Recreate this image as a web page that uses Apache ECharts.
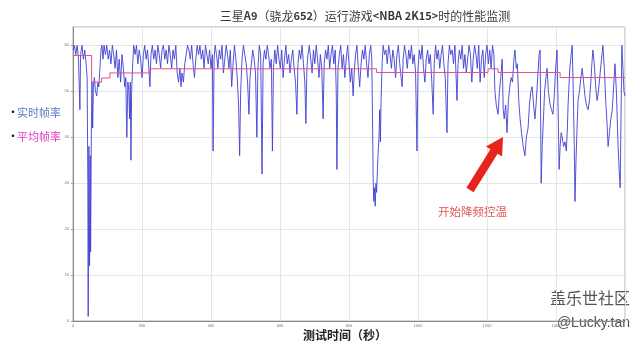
<!DOCTYPE html>
<html><head><meta charset="utf-8">
<script src="https://cdn.jsdelivr.net/npm/echarts@6/dist/echarts.min.js"></script>
<style>html,body{margin:0;padding:0;background:#fff}#c{width:640px;height:347px}</style>
</head><body><div id="c"></div>
<script>
const titleText = '三星A9（骁龙652）运行游戏<NBA 2K15>时的性能监测';
const xName = '测试时间（秒）';
const legendNames = ['实时帧率', '平均帧率'];
const xTicks = [0, 200, 400, 600, 800, 1000, 1200, 1400, 1600];
const yTicks = [0, 10, 20, 30, 40, 50, 60];

const rtTimes = [0,4,8,12,16,20,22,26,30,34,38,41,43,44,46,48,50,51,53,55,57,59,62,65,69,72,75,78,81,84,87,90,94,98,102,106,110,114,118,122,126,130,134,138,142,146,150,153,156,159,162,164,166,168,170,173,176,180,184,188,192,196,200,204,208,212,216,220,223,226,230,234,238,242,246,250,254,258,262,266,270,274,278,282,286,290,294,298,302,306,310,313,316,320,324,328,332,336,340,344,348,352,356,360,364,368,372,376,380,384,388,392,396,400,404,406,409,412,416,420,424,428,432,436,440,444,448,452,456,460,464,468,472,476,480,483,486,490,494,498,502,506,510,513,517,521,525,529,533,536,540,544,548,551,555,559,563,567,571,575,578,581,585,589,593,597,601,605,609,613,617,621,625,629,633,637,641,645,649,652,656,660,664,668,672,675,678,681,685,689,693,697,701,705,709,713,717,721,725,728,732,736,740,744,748,752,756,760,763,765,768,772,776,780,784,788,792,796,800,804,808,812,815,819,823,827,831,835,839,843,847,851,855,859,863,866,868,870,872,874,876,878,880,882,884,887,889,891,893,896,899,903,907,911,915,919,923,927,931,935,939,943,947,951,954,957,961,965,969,973,977,981,985,989,993,997,1000,1004,1008,1012,1016,1020,1024,1028,1032,1036,1040,1044,1047,1051,1055,1059,1063,1067,1071,1075,1079,1084,1087,1091,1095,1099,1103,1107,1110,1113,1116,1120,1124,1128,1132,1136,1140,1144,1148,1152,1156,1160,1164,1168,1172,1176,1180,1184,1188,1192,1196,1200,1204,1208,1212,1216,1220,1223,1227,1232,1236,1240,1244,1247,1250,1254,1258,1262,1266,1270,1274,1278,1281,1285,1288,1292,1296,1300,1305,1310,1314,1319,1323,1327,1331,1335,1339,1343,1347,1351,1354,1357,1360,1363,1367,1371,1374,1378,1383,1387,1391,1395,1399,1403,1406,1409,1412,1415,1418,1422,1426,1430,1433,1435,1440,1444,1447,1450,1453,1455,1458,1461,1464,1468,1472,1476,1480,1484,1488,1493,1497,1501,1504,1507,1511,1515,1519,1523,1528,1532,1536,1540,1544,1548,1551,1555,1559,1563,1567,1571,1575,1580,1583,1586,1588,1591,1594,1597,1600];
const rtFps = [59,60,58,60,57,46,58,60,57,59,56,53,30,1,38,12,36,15,40,52,42,51,53,50,49,52,51,55,59,60,57,60,58,60,57,59,56,60,58,55,59,53,57,52,58,55,51,53,40,52,50,44,52,35,50,56,60,58,60,56,59,57,53,58,60,57,59,55,51,58,60,57,59,56,60,58,55,59,60,57,59,56,60,58,55,59,57,60,54,52,55,51,54,52,56,58,60,59,57,60,56,53,57,60,58,60,57,59,55,60,58,56,59,55,58,37,57,60,58,55,59,57,60,54,57,60,58,55,59,51,56,60,57,53,47,36,50,57,60,58,56,52,45,53,56,59,57,54,40,55,60,58,32,56,59,57,60,58,55,57,37,55,59,56,60,57,55,59,53,57,60,56,58,54,57,59,55,52,45,56,59,57,60,56,52,43,55,58,60,57,54,59,56,60,57,53,58,55,44,56,59,57,60,55,58,60,56,59,50,33,55,58,60,55,58,53,57,60,56,52,55,49,54,58,60,55,51,56,59,57,60,56,53,58,60,57,45,31,26,29,25,30,28,32,36,40,46,39,48,56,60,58,59,56,60,58,55,59,57,53,58,60,56,53,51,57,60,58,55,59,57,60,56,58,54,37,55,59,57,60,55,52,57,59,56,58,52,45,56,60,57,59,55,58,60,56,53,41,56,60,58,59,56,60,54,48,56,59,57,60,55,58,54,57,60,58,52,57,60,58,55,60,52,57,59,53,58,60,56,59,55,60,58,50,47,45,50,53,57,46,44,47,41,48,51,53,52,57,59,55,56,48,44,41,38,36,40,42,47,50,51,47,44,48,53,58,59,30,38,43,50,53,55,50,47,46,45,49,55,59,47,33,38,41,40,38,39,37,42,47,55,58,60,50,38,26,35,42,48,50,53,55,52,49,47,46,48,52,56,59,56,51,48,50,54,57,60,55,48,43,38,41,44,46,51,56,50,38,33,29,42,60,55,50,49];

const avgTimes = [0, 40, 54, 83, 107, 223, 880, 1203, 1232, 1412, 1600];
const avgFps = [57.8, 57.8, 52.0, 52.9, 54.0, 54.9, 54.1, 54.9, 54.1, 53.0, 53.0];

const annotText = '开始降频控温';
const wmText1 = '盖乐世社区';
const wmText2 = '@Lucky.tan';

const chart = echarts.init(document.getElementById('c'));

// arrow annotation geometry
const tail = [470, 190], head = [503, 137];
const dx = head[0] - tail[0], dy = head[1] - tail[1];
const L = Math.sqrt(dx * dx + dy * dy);
const ux = dx / L, uy = dy / L, nx = -uy, ny = ux;
const hl = 17, hw = 9.5, sw = 4.2;
const bx = head[0] - ux * hl, by = head[1] - uy * hl;
const arrowPts = [
  [tail[0] + nx * sw, tail[1] + ny * sw],
  [bx + nx * sw, by + ny * sw],
  [bx + nx * hw, by + ny * hw],
  head,
  [bx - nx * hw, by - ny * hw],
  [bx - nx * sw, by - ny * sw],
  [tail[0] - nx * sw, tail[1] - ny * sw]
];

const cjk = '"Noto Sans CJK SC", "Noto Sans", sans-serif';

chart.setOption({
  animation: false,
  backgroundColor: '#fff',
  title: {
    text: '三星{b|A9}（骁龙{b|652}）运行游戏{b|<NBA 2K15>}时的性能监测',
    left: 360, top: 5, textAlign: 'center',
    textStyle: {
      fontFamily: cjk, fontSize: 12, fontWeight: 'normal', color: '#3a3a3a',
      rich: { b: { fontFamily: cjk, fontSize: 11, fontWeight: 'bold', color: '#3a3a3a' } }
    }
  },
  grid: { left: 73, right: 15, top: 27, bottom: 26, show: true, borderColor: '#b0b0b0', borderWidth: 1 },
  xAxis: {
    type: 'value', min: 0, max: 1600, interval: 200,
    axisLine: { lineStyle: { color: '#8a8a8a' } },
    axisTick: { show: false },
    axisLabel: { fontSize: 4, color: '#777', margin: 3, showMaxLabel: false, formatter: v => String(v) },
    splitLine: { show: true, lineStyle: { color: '#e6e6e6' } }
  },
  yAxis: {
    type: 'value', min: 0, max: 64, interval: 10,
    axisLine: { show: true, lineStyle: { color: '#8a8a8a' } },
    axisTick: { show: true, length: 2, lineStyle: { color: '#999' } },
    axisLabel: { fontSize: 4, color: '#777', margin: 4, showMaxLabel: false, formatter: v => String(v) },
    splitLine: { show: true, lineStyle: { color: '#e6e6e6' } }
  },
  series: [
    {
      name: legendNames[0], type: 'line', showSymbol: false, symbol: 'none',
      data: rtTimes.map((t, i) => [t, rtFps[i]]),
      lineStyle: { color: '#3f3fd4', width: 0.9 }, z: 2
    },
    {
      name: legendNames[1], type: 'line', showSymbol: false, symbol: 'none', step: 'end',
      data: avgTimes.map((t, i) => [t, avgFps[i]]),
      lineStyle: { color: '#e0508a', width: 1 }, z: 3
    }
  ],
  graphic: [
    { type: 'text', left: 7, top: 106, style: { text: '•', fontSize: 12, fill: '#222', fontFamily: cjk } },
    { type: 'text', left: 17, top: 107, style: { text: legendNames[0], fontSize: 11, fill: '#5b80bf', fontFamily: cjk } },
    { type: 'text', left: 7, top: 130, style: { text: '•', fontSize: 12, fill: '#222', fontFamily: cjk } },
    { type: 'text', left: 17, top: 131, style: { text: legendNames[1], fontSize: 11, fill: '#e03cc0', fontFamily: cjk } },
    { type: 'polygon', shape: { points: arrowPts }, style: { fill: '#e8231b' }, z: 10 },
    { type: 'text', left: 438, top: 206, style: { text: annotText, fontSize: 11.5, fill: '#e05858', fontFamily: cjk } },
    { type: 'text', left: 303, top: 329, style: { text: xName, fontSize: 12, fontWeight: 'bold', fill: '#222', fontFamily: cjk } },
    { type: 'text', right: 10, top: 290, style: { text: wmText1, fontSize: 16, fill: '#555', fontFamily: cjk } },
    { type: 'text', right: 10, top: 316, style: { text: wmText2, fontSize: 14, fill: '#555', fontFamily: '"Liberation Sans", sans-serif' } }
  ]
});
</script></body></html>
